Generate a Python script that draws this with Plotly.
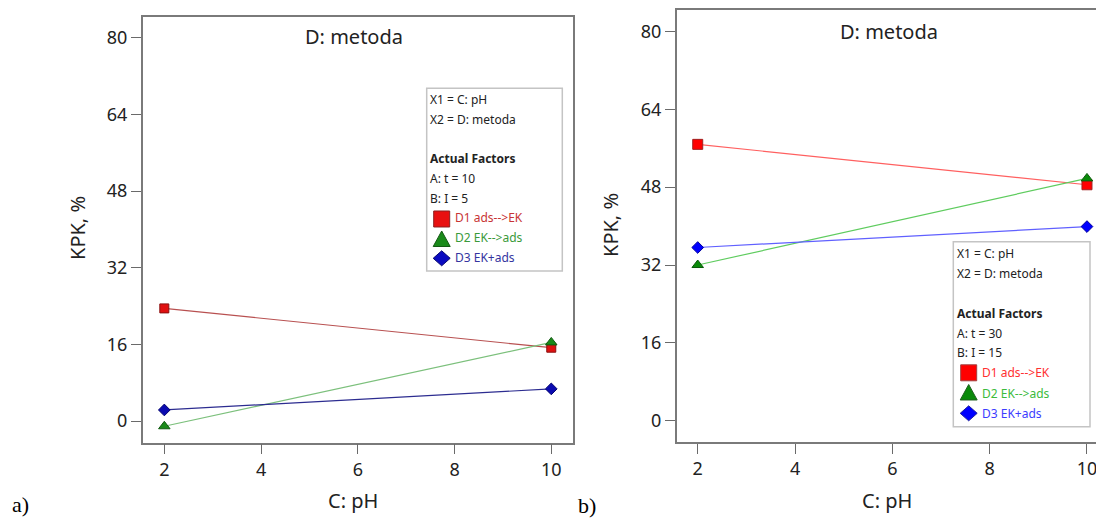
import plotly.graph_objects as go

# page body has an 8px default margin; the figure is sized so it fills the 1104x519 window
OFF = 8
W, H = 1104 - OFF, 519 - OFF

# ---- data ----
ph = [2, 10]
a_d1 = [23.5, 15.3]
a_d2 = [-1.1, 16.4]
a_d3 = [2.3, 6.7]
b_d1 = [56.8, 48.5]
b_d2 = [32.0, 49.8]
b_d3 = [35.6, 39.9]
series_names = ["D1 ads--&gt;EK", "D2 EK--&gt;ads", "D3 EK+ads"]
xticks = [2, 4, 6, 8, 10]
yticks = [0, 16, 32, 48, 64, 80]
legend_a = ["X1 = C: pH", "X2 = D: metoda", "<b>Actual Factors</b>", "A: t = 10", "B: I = 5"]
legend_b = ["X1 = C: pH", "X2 = D: metoda", "<b>Actual Factors</b>", "A: t = 30", "B: I = 15"]

FONT = "Noto Sans"


def px(x):
    return (x - OFF) / W


def py(y):
    return 1 - (y - OFF) / H


fig = go.Figure()

sty_a = [
    dict(sym="square", mc="#e01010", ml="#8a1010", lc="#b85050", size=9),
    dict(sym="triangle-up", mc="#1a8a1a", ml="#0f5a0f", lc="#7cc07c", size=10),
    dict(sym="diamond", mc="#0a0ab0", ml="#050570", lc="#2c2c90", size=9),
]
sty_b = [
    dict(sym="square", mc="#ff0000", ml="#a02020", lc="#ff6060", size=10),
    dict(sym="triangle-up", mc="#0a8a0a", ml="#0a5a0a", lc="#5fcc5f", size=10),
    dict(sym="diamond", mc="#0000ff", ml="#0000a0", lc="#6060ff", size=9),
]

for ys, st, nm in zip([a_d1, a_d2, a_d3], sty_a, series_names):
    fig.add_trace(go.Scatter(x=ph, y=ys, mode="lines+markers", name=nm, showlegend=False,
                             line=dict(color=st["lc"], width=1.2),
                             marker=dict(symbol=st["sym"], size=st["size"], color=st["mc"],
                                         line=dict(color=st["ml"], width=1)),
                             xaxis="x", yaxis="y"))
for ys, st, nm in zip([b_d1, b_d2, b_d3], sty_b, series_names):
    fig.add_trace(go.Scatter(x=ph, y=ys, mode="lines+markers", name=nm, showlegend=False,
                             line=dict(color=st["lc"], width=1.2),
                             marker=dict(symbol=st["sym"], size=st["size"], color=st["mc"],
                                         line=dict(color=st["ml"], width=1)),
                             xaxis="x2", yaxis="y2"))

axis_common = dict(showgrid=False, zeroline=False, showline=True, linecolor="#7a7a7a",
                   linewidth=1.5, ticks="outside", ticklen=10, tickcolor="#6a6a6a",
                   tickwidth=1.2, tickfont=dict(family=FONT, size=18, color="#222"),
                   automargin=False, fixedrange=True)

fig.update_layout(
    width=W, height=H,
    margin=dict(l=0, r=0, t=0, b=0),
    paper_bgcolor="white", plot_bgcolor="white",
    showlegend=False,
    xaxis=dict(domain=[px(142.7), px(572.7)], range=[1.553, 10.443], tickvals=xticks,
               anchor="y", mirror=True, **axis_common),
    yaxis=dict(domain=[py(442.7), py(16.7)], range=[-4.53, 84.38], tickvals=yticks,
               anchor="x", mirror=True, **axis_common),
    xaxis2=dict(domain=[px(676.7), 1.0], range=[1.568, 10.35], tickvals=xticks,
                anchor="y2", mirror=True, **axis_common),
    yaxis2=dict(domain=[py(442.0), py(10.0)], range=[-4.38, 84.42], tickvals=yticks,
                anchor="x2", mirror=False, **axis_common),
)

ann = []
shapes = []


def text(x, y, t, size, color="#222", family=FONT, anchor="center", angle=0):
    ann.append(dict(x=px(x), y=py(y), xref="paper", yref="paper", text=t, showarrow=False,
                    xanchor=anchor, yanchor="middle", textangle=angle, borderpad=0,
                    font=dict(family=family, size=size, color=color)))


# titles
text(354, 37, "D: metoda", 20)
text(889, 31, "D: metoda", 20)
text(353, 500, "C: pH", 20)
text(887, 500, "C: pH", 20)
text(77, 228, "KPK, %", 20, angle=-90)
text(611, 225, "KPK, %", 20, angle=-90)
text(20, 504, "a)", 22, color="#000", family="Liberation Serif")
text(587, 505, "b)", 22, color="#000", family="Liberation Serif")

# legend boxes
for (x0, x1, y0, y1) in [(426.7, 562.3, 88.3, 271.0), (953.3, 1090.0, 241.7, 426.7)]:
    shapes.append(dict(type="rect", xref="paper", yref="paper", x0=px(x0), x1=px(x1),
                       y0=py(y1), y1=py(y0), line=dict(color="#c4c4c4", width=1.5),
                       fillcolor="rgba(0,0,0,0)"))


def path(points):
    return "M " + " L ".join(f"{px(x):.6f},{py(y):.6f}" for x, y in points) + " Z"


def key_icon(kind, cx, cy, fill, edge):
    if kind == 0:      # square
        pts = [(cx - 8, cy - 8), (cx + 8, cy - 8), (cx + 8, cy + 8), (cx - 8, cy + 8)]
    elif kind == 1:    # triangle
        pts = [(cx, cy - 8), (cx + 8.5, cy + 7.5), (cx - 8.5, cy + 7.5)]
    else:              # diamond
        pts = [(cx, cy - 7.5), (cx + 8.5, cy), (cx, cy + 7.5), (cx - 8.5, cy)]
    shapes.append(dict(type="path", xref="paper", yref="paper", path=path(pts),
                       fillcolor=fill, line=dict(color=edge, width=1)))


def legend(x_text, ys_head, glyph_x, glyph_ys, text_x, ys_items, lines, colors, gcolors, edges):
    for yy, t in zip(ys_head, lines):
        text(x_text, yy, t, 12, color="#222", anchor="left")
    for k, (yy, gy, nm, c, gc, ec) in enumerate(zip(ys_items, glyph_ys, series_names,
                                                    colors, gcolors, edges)):
        key_icon(k, glyph_x, gy, gc, ec)
        text(text_x, yy, nm, 12, color=c, anchor="left")


legend(429, [99.3, 119.0, 158.7, 178.3, 198.0], 441.7, [219.0, 239.0, 258.3],
       454, [217.3, 237.7, 257.3], legend_a,
       ["#c83434", "#3a9a3a", "#3434a0"], ["#e81010", "#1a8a1a", "#0a0ac0"],
       ["#8a2020", "#145a14", "#0a0a70"])
legend(956, [253.3, 273.0, 313.3, 333.3, 352.7], 968.7, [372.8, 392.5, 413.3],
       981, [372.7, 393.3, 413.3], legend_b,
       ["#ff3030", "#3cbb3c", "#3c3cff"], ["#ff0000", "#0a8a0a", "#0000ff"],
       ["#a04040", "#206020", "#2020a0"])

fig.update_layout(annotations=ann, shapes=shapes)

fig.write_html("out.html")
